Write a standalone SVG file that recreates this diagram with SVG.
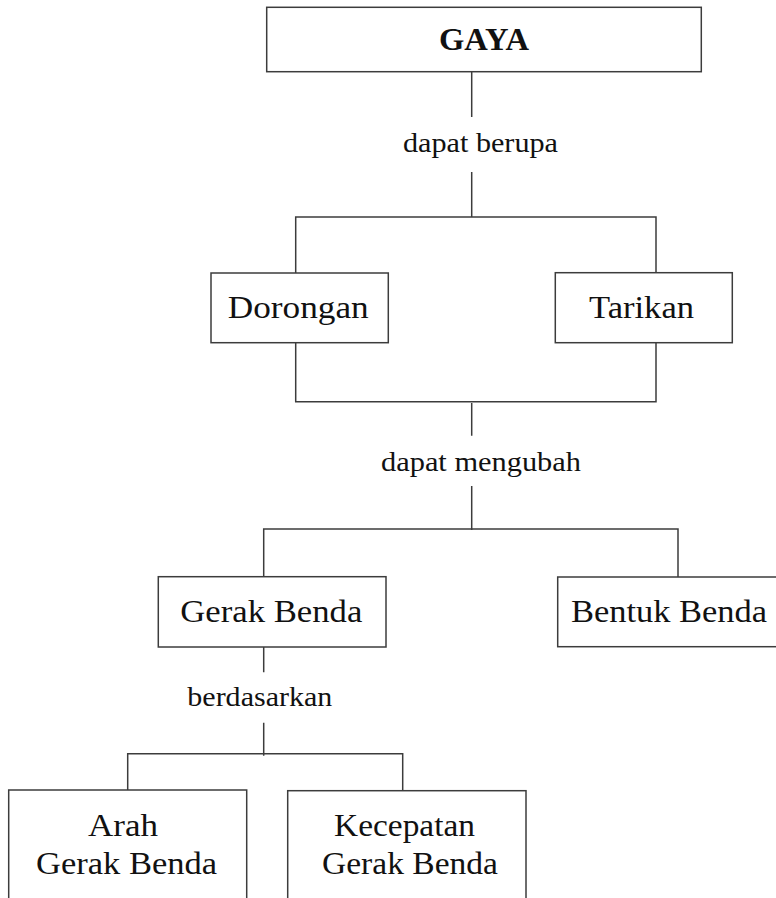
<svg xmlns="http://www.w3.org/2000/svg" width="776" height="898" viewBox="0 0 776 898">
<style>
.box{fill:#fff;stroke:#3c3c3c;stroke-width:1.5}
.ln{stroke:#3c3c3c;stroke-width:1.5;fill:none}
.t{font-family:"Liberation Serif","DejaVu Serif",serif;font-size:32px;fill:#111}
.lb{font-family:"Liberation Serif","DejaVu Serif",serif;font-size:27px;fill:#111}
.b{font-weight:bold}
</style>
<rect width="776" height="898" fill="#fff"/>
<g id="connectors">
<path class="ln" d="M471.7 72V117M471.7 172V217M295.7 273V217H656V273"/>
<path class="ln" d="M295.7 343V401.7H656V343M471.7 403V435.7M471.7 486V530M263.7 577V529H678V577"/>
<path class="ln" d="M263.7 647V672.3M263.7 722.7V755.7M127.7 790V753.7H402.7V790"/>
<text class="lb" x="403" y="151.5" textLength="155" lengthAdjust="spacingAndGlyphs">dapat berupa</text>
<text class="lb" x="381" y="470.7" textLength="200" lengthAdjust="spacingAndGlyphs">dapat mengubah</text>
<text class="lb" x="187.3" y="706" textLength="145" lengthAdjust="spacingAndGlyphs">berdasarkan</text>
</g>
<g id="gaya">
<rect class="box" x="266.7" y="7.3" width="434.6" height="64.4"/>
<text class="t b" x="439" y="50" textLength="90" lengthAdjust="spacingAndGlyphs">GAYA</text>
</g>
<g id="dorongan">
<rect class="box" x="211" y="273" width="177.3" height="69.7"/>
<text class="t" x="227.7" y="318.3" textLength="141" lengthAdjust="spacingAndGlyphs">Dorongan</text>
</g>
<g id="tarikan">
<rect class="box" x="555.3" y="272.7" width="177" height="70"/>
<text class="t" x="589" y="318.3" textLength="105" lengthAdjust="spacingAndGlyphs">Tarikan</text>
</g>
<g id="gerak-benda">
<rect class="box" x="158.3" y="576.7" width="227.7" height="70.3"/>
<text class="t" x="180.3" y="621.7" textLength="182" lengthAdjust="spacingAndGlyphs">Gerak Benda</text>
</g>
<g id="bentuk-benda">
<rect class="box" x="557.7" y="577" width="240" height="69.7"/>
<text class="t" x="571" y="621.7" textLength="196" lengthAdjust="spacingAndGlyphs">Bentuk Benda</text>
</g>
<g id="arah">
<rect class="box" x="8.7" y="790" width="238" height="130"/>
<text class="t" x="88" y="835.7" textLength="70" lengthAdjust="spacingAndGlyphs">Arah</text>
<text class="t" x="36" y="874" textLength="181" lengthAdjust="spacingAndGlyphs">Gerak Benda</text>
</g>
<g id="kecepatan">
<rect class="box" x="287.7" y="790.7" width="238.3" height="130"/>
<text class="t" x="334" y="836" textLength="141" lengthAdjust="spacingAndGlyphs">Kecepatan</text>
<text class="t" x="322" y="874" textLength="176" lengthAdjust="spacingAndGlyphs">Gerak Benda</text>
</g>
</svg>
